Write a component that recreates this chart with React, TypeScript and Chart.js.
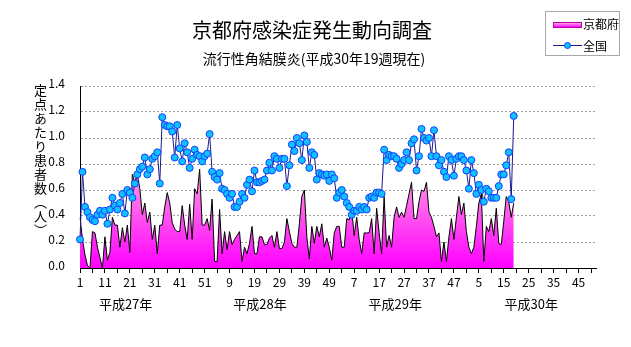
import React, { useEffect, useRef } from "react";
import { Chart, registerables } from "chart.js";

Chart.register(...registerables);

// Weeks per year shown on the axis (平成27年〜平成30年)
const YEAR_NAMES = ["平成27年", "平成28年", "平成29年", "平成30年"];
const WEEKS_PER_YEAR = [52, 52, 52, 52];

// 京都府 (per sentinel), 2015 w1 .. 2018 w19
const kyoto: number[] = [
  0.39, 0.22, 0.10, 0.02, 0.00, 0.28, 0.27, 0.16, 0.08, 0.00,
  0.24, 0.06, 0.12, 0.39, 0.33, 0.33, 0.16, 0.31, 0.20, 0.33,
  0.12, 0.72, 0.66, 0.72, 0.61, 0.41, 0.50, 0.35, 0.43, 0.22,
  0.33, 0.11, 0.33, 0.33, 0.47, 0.58, 0.50, 0.35, 0.30, 0.28,
  0.28, 0.48, 0.33, 0.22, 0.49, 0.22, 0.61, 0.57, 0.76, 0.33,
  0.33, 0.38, 0.29, 0.53, 0.05, 0.05, 0.45, 0.11, 0.28, 0.14,
  0.28, 0.18, 0.22, 0.25, 0.28, 0.05, 0.16, 0.11, 0.19, 0.32,
  0.11, 0.11, 0.24, 0.24, 0.18, 0.18, 0.23, 0.25, 0.16, 0.28,
  0.15, 0.15, 0.20, 0.38, 0.28, 0.19, 0.16, 0.16, 0.34, 0.55,
  0.60, 0.24, 0.07, 0.32, 0.19, 0.32, 0.24, 0.34, 0.16, 0.23,
  0.16, 0.06, 0.27, 0.32, 0.32, 0.16, 0.16, 0.38, 0.37, 0.45,
  0.25, 0.39, 0.22, 0.11, 0.27, 0.27, 0.27, 0.38, 0.11, 0.46,
  0.27, 0.11, 0.55, 0.16, 0.25, 0.16, 0.39, 0.47, 0.39, 0.43,
  0.39, 0.48, 0.57, 0.66, 0.38, 0.38, 0.51, 0.60, 0.59, 0.66,
  0.43, 0.39, 0.32, 0.24, 0.27, 0.05, 0.20, 0.05, 0.24, 0.38,
  0.22, 0.39, 0.55, 0.41, 0.50, 0.28, 0.16, 0.11, 0.16, 0.32,
  0.50, 0.57, 0.05, 0.32, 0.28, 0.38, 0.25, 0.46, 0.19, 0.18,
  0.36, 0.55, 0.51, 0.39, 0.50,
];

// 全国 (per sentinel), 2015 w1 .. 2018 w19
const national: number[] = [
  0.22, 0.74, 0.47, 0.43, 0.39, 0.37, 0.36, 0.41, 0.44, 0.41,
  0.44, 0.34, 0.45, 0.54, 0.48, 0.45, 0.50, 0.57, 0.42, 0.60,
  0.58, 0.54, 0.65, 0.72, 0.76, 0.78, 0.85, 0.72, 0.76, 0.84,
  0.86, 0.89, 0.65, 1.16, 1.10, 1.09, 1.09, 1.05, 0.85, 1.10,
  0.92, 0.82, 0.96, 0.89, 0.77, 0.84, 0.91, 0.87, 0.86, 0.82,
  0.86, 0.88, 1.03, 0.74, 0.70, 0.68, 0.73, 0.61, 0.60, 0.57,
  0.54, 0.57, 0.47, 0.47, 0.51, 0.57, 0.54, 0.64, 0.68, 0.59,
  0.75, 0.66, 0.66, 0.67, 0.68, 0.75, 0.81, 0.75, 0.86, 0.84,
  0.77, 0.84, 0.84, 0.63, 0.79, 0.95, 0.90, 1.00, 0.96, 0.83,
  1.02, 0.97, 0.77, 0.89, 0.87, 0.68, 0.73, 0.72, 0.71, 0.72,
  0.67, 0.72, 0.69, 0.54, 0.58, 0.60, 0.55, 0.50, 0.47, 0.41,
  0.44, 0.44, 0.47, 0.45, 0.47, 0.45, 0.54, 0.55, 0.54, 0.58,
  0.58, 0.57, 0.91, 0.83, 0.87, 0.86, 0.86, 0.84, 0.77, 0.80,
  0.83, 0.89, 0.83, 0.96, 0.99, 0.75, 0.86, 1.07, 1.00, 0.98,
  1.00, 0.86, 1.06, 0.86, 0.79, 0.83, 0.74, 0.70, 0.86, 0.83,
  0.71, 0.84, 0.86, 0.86, 0.83, 0.75, 0.61, 0.83, 0.73, 0.57,
  0.64, 0.60, 0.51, 0.61, 0.59, 0.54, 0.54, 0.54, 0.63, 0.72,
  0.72, 0.79, 0.89, 0.53, 1.17,
];

const Y_TICKS = [0, 0.2, 0.4, 0.6, 0.8, 1.0, 1.2, 1.4];

// category labels: week numbers of each year
const weekLabels: string[] = [];
WEEKS_PER_YEAR.forEach((n) => {
  for (let w = 1; w <= n; w++) weekLabels.push(String(w));
});

const FONT = '"Noto Sans CJK JP", "Noto Sans", sans-serif';

export default function App() {
  const canvasRef = useRef<HTMLCanvasElement | null>(null);

  useEffect(() => {
    document.body.style.margin = "0";
    const canvas = canvasRef.current;
    if (!canvas) return;

    const yearLabelPlugin = {
      id: "yearLabels",
      afterDraw(chart: any) {
        const { ctx } = chart;
        const x = chart.scales.x;
        const anchors = [18.3, 72.2, 126.5, 181];
        ctx.save();
        ctx.font = `13px ${FONT}`;
        ctx.fillStyle = "#000";
        ctx.textAlign = "center";
        ctx.textBaseline = "middle";
        YEAR_NAMES.forEach((name, k) => {
          ctx.fillText(name, x.getPixelForValue(anchors[k]), 304);
        });
        ctx.restore();
      },
    };

    const chart = new Chart(canvas, {
      type: "line",
      data: {
        labels: weekLabels,
        datasets: [
          {
            label: "全国",
            data: national,
            borderColor: "#1a1a8c",
            borderWidth: 1,
            pointRadius: 3.5,
            pointBackgroundColor: "#10c0ff",
            pointBorderColor: "#1040ff",
            pointBorderWidth: 1,
            tension: 0,
            fill: false,
            order: 0,
          },
          {
            label: "京都府",
            data: kyoto,
            borderColor: "#000000",
            borderWidth: 1,
            pointRadius: 0,
            tension: 0,
            fill: "origin",
            order: 1,
            backgroundColor: (ctx: any) => {
              const ch = ctx.chart;
              const y = ch.scales && ch.scales.y;
              if (!y || !ch.chartArea) return "#ff40ff";
              const g = ch.ctx.createLinearGradient(0, y.getPixelForValue(0.8), 0, y.getPixelForValue(0));
              g.addColorStop(0, "#ffa8e0");
              g.addColorStop(1, "#ff00ff");
              return g;
            },
          },
        ],
      },
      options: {
        responsive: false,
        animation: false,
        devicePixelRatio: 1,
        layout: { padding: { left: 0, right: 35, top: 86, bottom: 0 } },
        plugins: {
          legend: { display: false },
          title: { display: false },
          tooltip: { enabled: false },
        },
        scales: {
          x: {
            type: "category",
            offset: false,
            afterFit: (s: any) => {
              s.height = 79;
            },
            grid: {
              drawOnChartArea: false,
              drawTicks: true,
              tickLength: 5,
              tickColor: (c: any) => (c.index % 5 === 0 ? "#000" : "rgba(0,0,0,0)"),
            },
            border: { color: "#000", width: 1 },
            ticks: {
              autoSkip: false,
              maxRotation: 0,
              minRotation: 0,
              padding: 2,
              color: "#000",
              font: { family: FONT, size: 12 },
              callback: (_v: any, i: number) => (i % 10 === 0 ? weekLabels[i] : ""),
            },
          },
          y: {
            min: 0,
            max: 1.4,
            afterFit: (s: any) => {
              s.width = 80;
            },
            afterBuildTicks: (s: any) => {
              s.ticks = Y_TICKS.map((v) => ({ value: v }));
            },
            grid: {
              color: "#a0a0a0",
              lineWidth: 1,
              drawTicks: false,
            },
            border: { color: "#000", width: 1, dash: [2, 2] },
            ticks: {
              padding: 15,
              labelOffset: -3,
              color: "#000",
              font: { family: FONT, size: 12 },
              callback: (v: any) => Number(v).toFixed(1),
            },
          },
        },
      },
      plugins: [yearLabelPlugin],
    });

    return () => chart.destroy();
  }, []);

  return (
    <div style={{ position: "relative", width: 631, height: 347, background: "#fff", fontFamily: FONT }}>
      <canvas ref={canvasRef} width={631} height={347} style={{ position: "absolute", left: 0, top: 0 }} />
      <div
        style={{
          position: "absolute",
          left: 0,
          width: 624,
          top: 18,
          textAlign: "center",
          fontSize: 20,
          lineHeight: "24px",
          color: "#000",
        }}
      >
        京都府感染症発生動向調査
      </div>
      <div
        style={{
          position: "absolute",
          left: 0,
          width: 628,
          top: 49,
          textAlign: "center",
          fontSize: 14,
          lineHeight: "18px",
          color: "#000",
        }}
      >
        流行性角結膜炎(平成30年19週現在)
      </div>
      <div
        style={{
          position: "absolute",
          left: 33,
          top: 84,
          writingMode: "vertical-rl",
          fontSize: 13,
          letterSpacing: "1px",
          lineHeight: "15px",
          whiteSpace: "nowrap",
          color: "#000",
        }}
      >
        定点あたり患者数（人）
      </div>
      <div
        style={{
          position: "absolute",
          left: 545,
          top: 11,
          width: 75,
          height: 45,
          boxSizing: "border-box",
          border: "1px solid #a8a8a8",
          background: "#fff",
          fontSize: 12,
          color: "#000",
          whiteSpace: "nowrap",
        }}
      >
        <div style={{ position: "absolute", left: 7, top: 10, width: 27, height: 4, border: "1px solid #c000a0", background: "linear-gradient(#ffa8e0, #ff00ff)" }} />
        <div style={{ position: "absolute", left: 37, top: 4, lineHeight: "16px", whiteSpace: "nowrap" }}>京都府</div>
        <div style={{ position: "absolute", left: 7, top: 33, width: 29, height: 1, background: "#1a1a8c" }} />
        <div style={{ position: "absolute", left: 18, top: 30, width: 5, height: 5, borderRadius: "50%", border: "1px solid #1040ff", background: "#10c0ff" }} />
        <div style={{ position: "absolute", left: 37, top: 26, lineHeight: "16px", whiteSpace: "nowrap" }}>全国</div>
      </div>
    </div>
  );
}
